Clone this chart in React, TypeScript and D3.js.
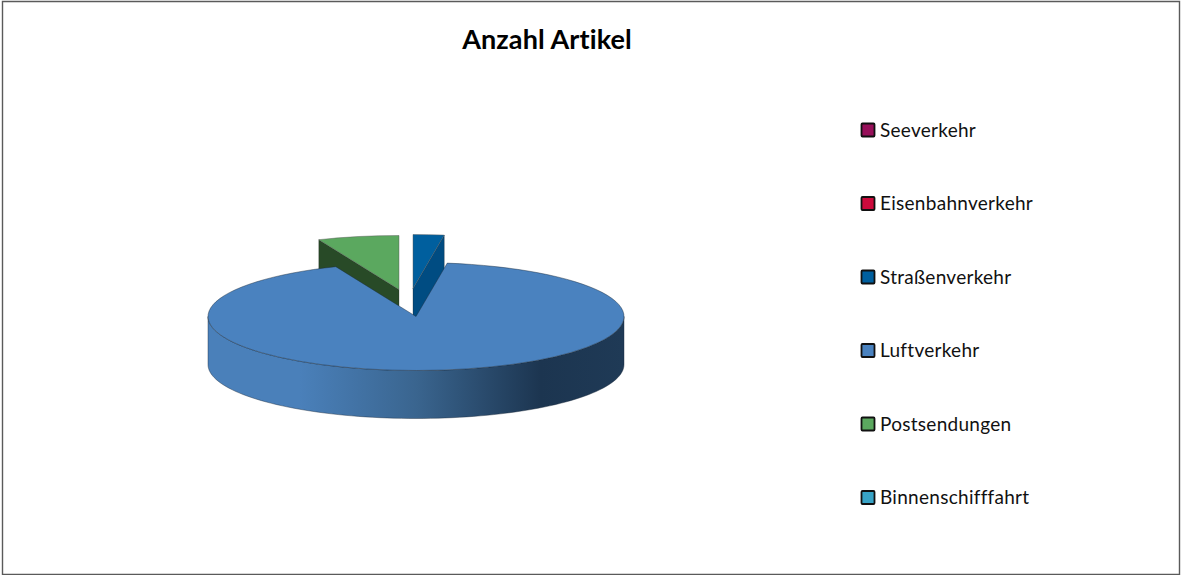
import React from 'react'
import * as d3 from 'd3'

// values (share of articles, percent)
const categories = ['Seeverkehr', 'Eisenbahnverkehr', 'Straßenverkehr', 'Luftverkehr', 'Postsendungen', 'Binnenschifffahrt']
const values = [0, 0, 2.4, 91.3, 6.3, 0]
const colors = ['#97105a', '#cc0a3c', '#005f9e', '#4a82bf', '#5ba85f', '#38a3c6']
const wallColors = ['#5f0a39', '#800626', '#004c82', '#1d3750', '#284a27', '#23677d']
const title = 'Anzahl Artikel'

const width = 1181
const height = 575
const cx = 416
const cy = 316.5
const rx = 208
const ry = 54
const depth = 48
// how far the two small slices are pulled out of the disc
const explode: Record<string, [number, number]> = {
  'Straßenverkehr': [-3, -28],
  'Postsendungen': [-17, -27],
}

const project = (a: number): [number, number] => [rx * Math.sin(a), -ry * Math.cos(a)]
const line = d3.line()

export default function App() {
  const slices = d3.pie<number>().sort(null).value(d => d)(values)
  const arc = d3.arc<d3.PieArcDatum<number>>().innerRadius(0).outerRadius(rx)
  const legendY = d3.scalePoint().domain(categories).range([130, 497.5])

  const mainIdx = categories.indexOf('Luftverkehr')
  const main = slices[mainIdx]

  // front rim of the big slice, left to right
  const rimAngles = d3.range(270, 89, -2).map(d => (d * Math.PI) / 180)
  const rimTop = rimAngles.map(project)
  const rimBottom = rimAngles.map(a => {
    const [x, y] = project(a)
    return [x, y + depth] as [number, number]
  })
  const rim = line([...rimTop, ...rimBottom.reverse()]) + 'Z'

  const drawSmall = (name: string) => {
    const i = categories.indexOf(name)
    const s = slices[i]
    const [dx, dy] = explode[name]
    // the cut face turned towards the viewer
    const edge = name === 'Postsendungen' ? s.startAngle : s.endAngle
    const [ex, ey] = project(edge)
    const face = line([[0, 0], [ex, ey], [ex, ey + depth], [0, depth]]) + 'Z'
    return (
      <g key={name} transform={`translate(${cx + dx},${cy + dy})`}>
        <path d={face} fill={wallColors[i]} stroke="#1a1a1a" strokeOpacity={0.5} strokeWidth={0.6} />
        <g transform={`scale(1,${ry / rx})`}>
          <path d={arc(s) ?? ''} fill={colors[i]} stroke="#555" strokeOpacity={0.55} strokeWidth={0.8} vectorEffect="non-scaling-stroke" />
        </g>
      </g>
    )
  }

  return (
    <svg width={width} height={height} style={{ position: 'absolute', left: 0, top: 0, display: 'block' }}>
      <defs>
        <linearGradient id="rimFill" gradientUnits="userSpaceOnUse" x1={-rx} x2={rx} y1={0} y2={0}>
          <stop offset="0" stopColor="#4a80ba" />
          <stop offset="0.22" stopColor="#4a80ba" />
          <stop offset="0.5" stopColor="#3a658f" />
          <stop offset="0.8" stopColor="#1c3550" />
          <stop offset="1" stopColor="#1f3a56" />
        </linearGradient>
      </defs>
      <rect width={width} height={height} fill="#fff" />
      <path d="M2.5,575V1.5H1179.5V574.5H2.5" fill="none" stroke="#5a5a5a" strokeWidth={1.4} />

      <text
        x={547}
        y={49}
        textAnchor="middle"
        fontFamily="Lato, sans-serif"
        fontWeight={700}
        fontSize={27}
        letterSpacing={0.1}
        fill="#000"
        style={{ fontVariantLigatures: 'none' }}
      >
        {title}
      </text>

      {drawSmall('Postsendungen')}
      {drawSmall('Straßenverkehr')}

      <g transform={`translate(${cx},${cy})`}>
        <path d={rim} fill="url(#rimFill)" stroke="#1a2a3a" strokeOpacity={0.6} strokeWidth={0.7} />
        <g transform={`scale(1,${ry / rx})`}>
          <path d={arc(main) ?? ''} fill={colors[mainIdx]} stroke="#1a2a3a" strokeOpacity={0.55} strokeWidth={0.8} vectorEffect="non-scaling-stroke" />
        </g>
      </g>

      {categories.map((c, i) => (
        <g key={c} transform={`translate(0,${legendY(c)})`}>
          <rect x={861.5} y={-6.5} width={13} height={13} fill={colors[i]} stroke="#111" strokeWidth={1.8} rx={1} />
          <text x={880} y={6.5} fontFamily="Lato, sans-serif" fontSize={19} letterSpacing={0.28} fill="#111" style={{ fontVariantLigatures: 'none' }}>
            {c}
          </text>
        </g>
      ))}
    </svg>
  )
}
